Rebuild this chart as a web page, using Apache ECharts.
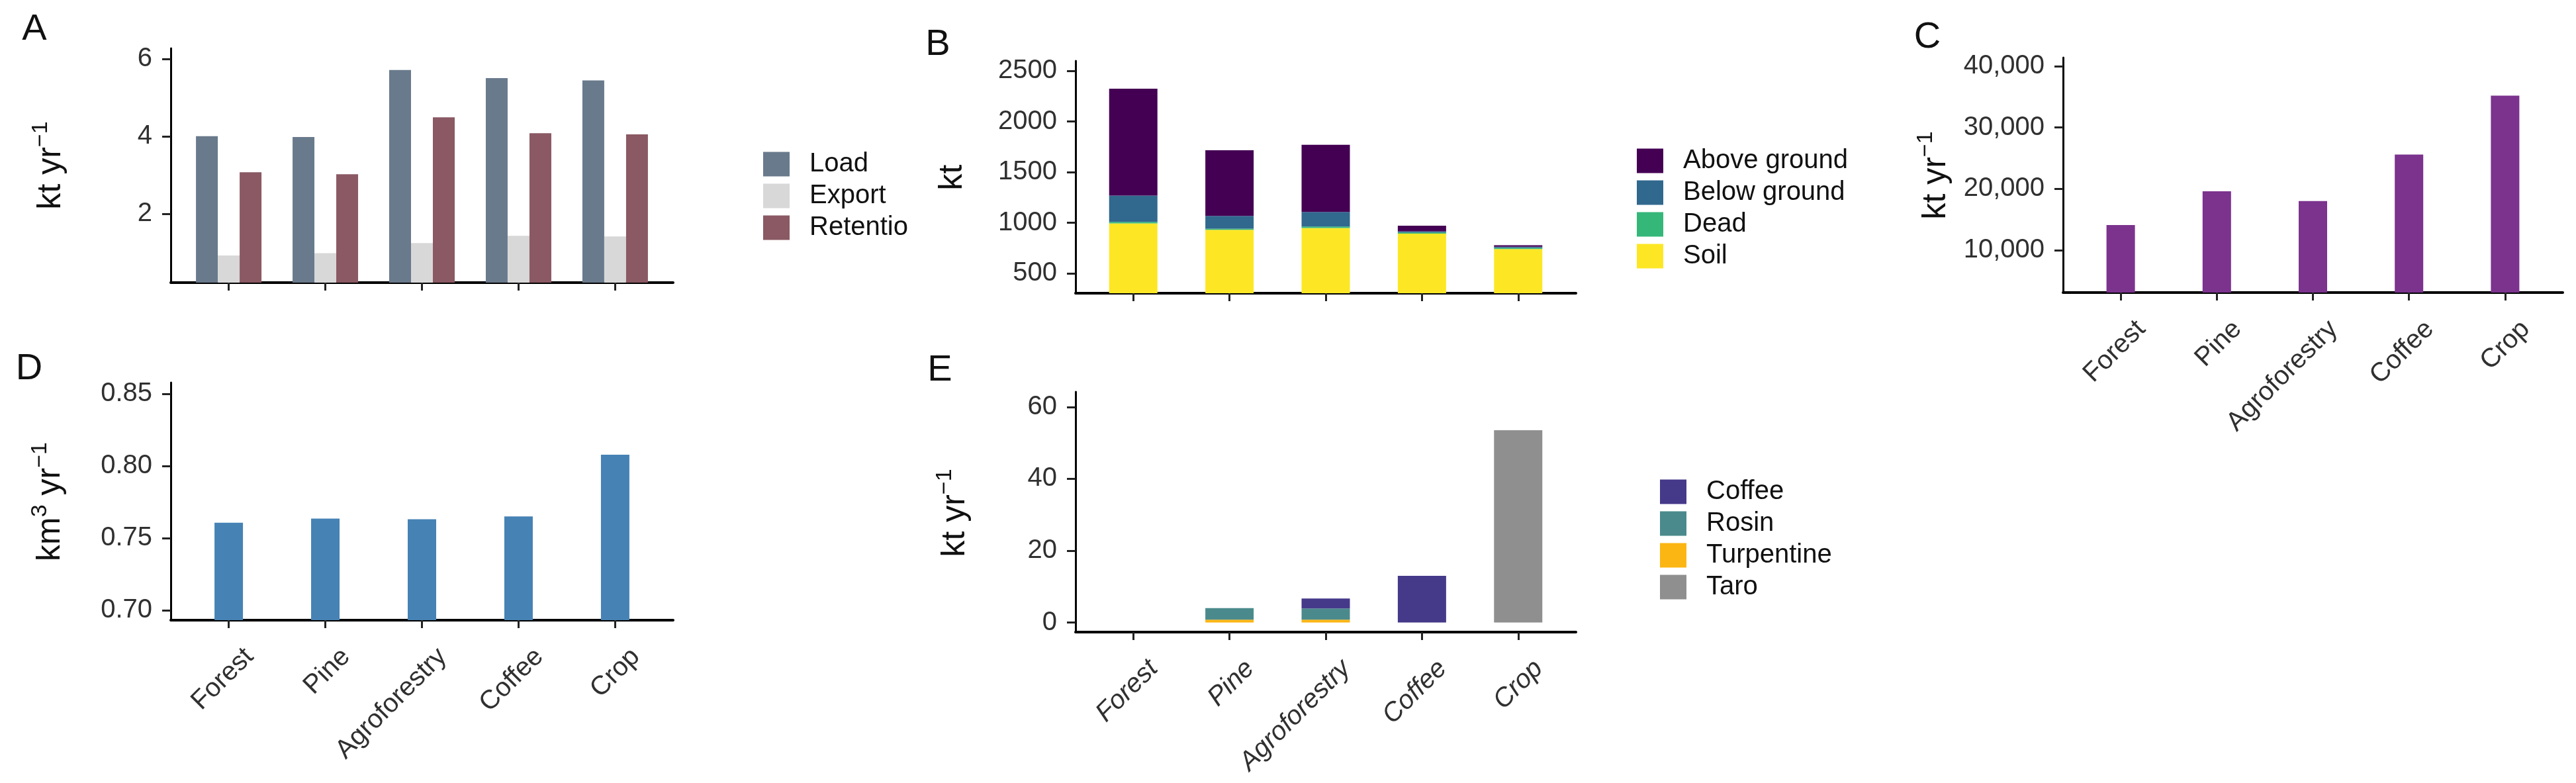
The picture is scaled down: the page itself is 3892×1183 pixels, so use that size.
<!DOCTYPE html>
<html>
<head>
<meta charset="utf-8">
<script src="https://cdn.jsdelivr.net/npm/echarts@6/dist/echarts.min.js"></script>
<style>
  html, body { margin: 0; padding: 0; background: #fff; }
  #chart { width: 3892px; height: 1183px; }
</style>
</head>
<body>
<div id="chart"></div>
<script>
// categories shared by every panel
const landUses = ['Forest', 'Pine', 'Agroforestry', 'Coffee', 'Crop'];

// A: nutrient budget, kt yr-1
const loadVals = [4.0, 3.98, 5.71, 5.5, 5.44];
const exportVals = [0.92, 0.98, 1.24, 1.43, 1.41];
const retentionVals = [3.07, 3.02, 4.49, 4.08, 4.05];

// B: carbon stocks, kt (stacked from the bottom: soil, dead, below, above)
const soilVals = [994, 930, 948, 893, 741];
const deadVals = [14, 11, 15, 11, 11];
const belowVals = [260, 126, 144, 11, 11];
const aboveVals = [1056, 649, 663, 55, 15];

// C: kt yr-1
const cVals = [14100, 19600, 18000, 25600, 35200];

// D: km3 yr-1
const dVals = [0.7606, 0.7635, 0.7631, 0.765, 0.8078];

// E: products, kt yr-1
const eCoffee = [0, 0, 2.8, 13.0, 0];
const eRosin = [0, 3.2, 3.1, 0, 0];
const eTurpentine = [0, 0.8, 0.8, 0, 0];
const eTaro = [0, 0, 0, 0, 53.5];

// tick labels
const aTicks = [2, 4, 6];
const bTicks = [500, 1000, 1500, 2000, 2500];
const cTicks = [10000, 20000, 30000, 40000];
const dTicks = [0.70, 0.75, 0.80, 0.85];
const eTicks = [0, 20, 40, 60];

const FONT = '"Liberation Sans", Arial, sans-serif';
const catIdx = landUses.map((c, i) => i);
// value first so that stacking works on the value dimension
const pts = arr => arr.map((v, i) => [v, i]);

function xAxis(grid, showLabels, italic) {
  return {
    type: 'value', gridIndex: grid, min: -0.6, max: 4.6,
    axisLine: { show: true, onZero: false, lineStyle: { color: '#000', width: 4 } },
    axisTick: { show: true, length: 12, customValues: catIdx, lineStyle: { color: '#222', width: 3 } },
    axisLabel: {
      show: showLabels, customValues: catIdx,
      formatter: v => landUses[Math.round(v)],
      rotate: 45, align: 'right', verticalAlign: 'top', margin: 18, padding: [24, 0, 0, 0],
      fontSize: 40, fontFamily: FONT, fontStyle: italic ? 'italic' : 'normal', color: '#303030'
    },
    splitLine: { show: false }
  };
}

function yAxis(grid, min, max, ticks, fmt) {
  return {
    type: 'value', gridIndex: grid, min: min, max: max,
    axisLine: { show: true, onZero: false, lineStyle: { color: '#000', width: 3 } },
    axisTick: { show: true, length: 13, customValues: ticks, lineStyle: { color: '#222', width: 3 } },
    axisLabel: { customValues: ticks, formatter: fmt, margin: 28, fontSize: 40, fontFamily: FONT, color: '#303030' },
    splitLine: { show: false }
  };
}

function bar(name, grid, data, color, width, stack) {
  const s = {
    name: name, type: 'bar', xAxisIndex: grid, yAxisIndex: grid,
    data: pts(data), encode: { x: 1, y: 0 },
    barWidth: width, barGap: '0%',
    itemStyle: { color: color }
  };
  if (stack) s.stack = stack;
  return s;
}

function letter(t, x, y) {
  return { type: 'text', x: x, y: y,
    style: { text: t, fontSize: 56, fontFamily: FONT, fill: '#111', textAlign: 'center', textVerticalAlign: 'middle', align: 'center', verticalAlign: 'middle' } };
}

function yTitle(rich, x, y) {
  return { type: 'text', x: x, y: y, rotation: Math.PI / 2,
    style: {
      text: rich, fill: '#111', fontFamily: FONT, fontSize: 50,
      textAlign: 'center', textVerticalAlign: 'middle', align: 'center', verticalAlign: 'middle',
      rich: {
        t: { fontSize: 50, fontFamily: FONT, fill: '#111', lineHeight: 64 },
        s: { fontSize: 34, fontFamily: FONT, fill: '#111', lineHeight: 34, verticalAlign: 'top' }
      }
    } };
}

function legend(names, left, top, cutWidth) {
  const textStyle = { fontSize: 40, fontFamily: FONT, color: '#111', padding: [0, 0, 0, 25] };
  if (cutWidth) {
    textStyle.width = cutWidth;
    textStyle.overflow = 'truncate';
    textStyle.ellipsis = '';
  }
  return {
    data: names, left: left, top: top, orient: 'vertical', padding: 0,
    itemWidth: 40, itemHeight: 37, itemGap: 8, icon: 'rect', selectedMode: false,
    textStyle: textStyle
  };
}

const option = {
  backgroundColor: '#fff',
  animation: false,
  grid: [
    { left: 258, top: 73, width: 759, height: 354 },   // A
    { left: 1625, top: 92, width: 756, height: 351 },  // B
    { left: 3117, top: 87, width: 755, height: 355 },  // C
    { left: 258, top: 578, width: 759, height: 359 },  // D
    { left: 1625, top: 592, width: 756, height: 363 }  // E
  ],
  xAxis: [
    xAxis(0, false, false),
    xAxis(1, false, false),
    xAxis(2, true, false),
    xAxis(3, true, false),
    xAxis(4, true, true)
  ],
  yAxis: [
    yAxis(0, 0.22, 6.27, aTicks, v => String(v)),
    yAxis(1, 304, 2598, bTicks, v => String(v)),
    yAxis(2, 3081, 41405, cTicks, v => v.toLocaleString('en-US')),
    yAxis(3, 0.6931, 0.8578, dTicks, v => v.toFixed(2)),
    yAxis(4, -2.67, 64.2, eTicks, v => String(v))
  ],
  legend: [
    legend(['Load', 'Export', 'Retention'], 1153, 228, 157),
    legend(['Above ground', 'Below ground', 'Dead', 'Soil'], 2473, 223),
    legend(['Coffee', 'Rosin', 'Turpentine', 'Taro'], 2508, 723)
  ],
  graphic: [
    letter('A', 52, 45), letter('B', 1417, 68), letter('C', 2912, 57),
    letter('D', 44, 558), letter('E', 1420, 560),
    yTitle('{t|kt yr}{s|−1}', 77, 250),
    yTitle('{t|kt}', 1439, 268),
    yTitle('{t|kt yr}{s|−1}', 2925, 265),
    yTitle('{t|km}{s|3}{t| yr}{s|−1}', 76, 758),
    yTitle('{t|kt yr}{s|−1}', 1443, 775)
  ],
  series: [
    bar('Load', 0, loadVals, '#697a8c', 33),
    bar('Export', 0, exportVals, '#d8d8d8', 33),
    bar('Retention', 0, retentionVals, '#8a5963', 33),

    bar('Soil', 1, soilVals, '#fde725', 73, 'b'),
    bar('Dead', 1, deadVals, '#35b779', 73, 'b'),
    bar('Below ground', 1, belowVals, '#31688e', 73, 'b'),
    bar('Above ground', 1, aboveVals, '#440154', 73, 'b'),

    bar('C', 2, cVals, '#7b338e', 43),
    bar('D', 3, dVals, '#4682b4', 43),

    bar('Turpentine', 4, eTurpentine, '#fbb614', 73, 'e'),
    bar('Rosin', 4, eRosin, '#4b8a8c', 73, 'e'),
    bar('Coffee', 4, eCoffee, '#45398a', 73, 'e'),
    bar('Taro', 4, eTaro, '#8f8f8f', 73, 'e')
  ]
};

const chart = echarts.init(document.getElementById('chart'));
chart.setOption(option);
</script>
</body>
</html>
